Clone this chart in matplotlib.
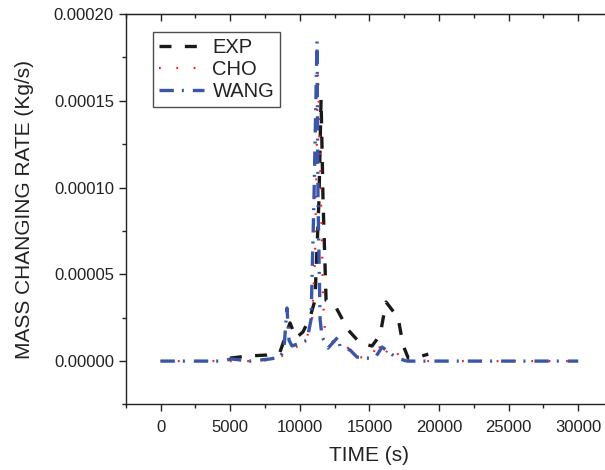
import matplotlib
matplotlib.use("Agg")
import matplotlib.pyplot as plt
from matplotlib.ticker import MultipleLocator, FormatStrFormatter

plt.rcParams['font.family'] = ['Liberation Sans', 'DejaVu Sans']

# EXP (experiment)
exp_t = [4980, 6270, 7640, 8580, 9300, 9730, 10230, 10730, 11090, 11380, 11530,
         11670, 11890, 12530, 13470, 14330, 15190, 15770, 16200, 17060, 17420,
         17790, 18510, 19230]
exp_m = [1.7e-6, 2.9e-6, 3.5e-6, 5.2e-6, 2.2e-5, 1.33e-5, 1.68e-5, 2.5e-5, 3.5e-5,
         9.3e-5, 1.51e-4, 9.3e-5, 3.5e-5, 3.2e-5, 1.8e-5, 1.04e-5, 8.7e-6, 1.5e-5,
         3.4e-5, 2.5e-5, 9.2e-6, 1.7e-6, 2.3e-6, 4.0e-6]

# CHO model
cho_t = [0, 7000, 7500, 8580, 9510, 10440, 10880, 11090, 11310, 11530, 11670,
         11820, 12390, 13040, 13470, 13970, 14690, 15190, 15620, 15910, 16340,
         16850, 17200, 17570, 30000]
cho_m = [0, 0, 3e-7, 2.3e-6, 6.9e-6, 1.16e-5, 2.4e-5, 5.8e-5, 1.67e-4, 9.3e-5,
         3.5e-5, 1.6e-5, 1.1e-5, 1.04e-5, 7.5e-6, 2.9e-6, 1.7e-6, 2.3e-6, 1.16e-5,
         2.3e-6, 6.4e-6, 8.1e-6, 6e-7, 0, 0]

# WANG model
wang_t = [0, 4260, 5130, 6420, 7860, 8580, 8860, 9080, 9230, 9440, 10020, 10520,
          10810, 11020, 11240, 11310, 11460, 11600, 12030, 12750, 12900, 13610,
          14110, 14900, 15400, 15910, 16490, 16990, 17710, 30000]
wang_m = [0, 0, 1.2e-6, 0, 1.2e-6, 2.3e-6, 6.4e-6, 3.06e-5, 1.2e-5, 8.7e-6,
          1.04e-5, 1.2e-5, 2.4e-5, 9.3e-5, 1.844e-4, 9.3e-5, 2.4e-5, 1.4e-5,
          7.5e-6, 1.39e-5, 8.1e-6, 6.4e-6, 2.3e-6, 1.7e-6, 1.7e-6, 8.1e-6, 4.6e-6,
          1.7e-6, 0, 0]

fig = plt.figure(figsize=(6.05, 4.7), dpi=100)
ax = fig.add_axes([0.2078, 0.1394, 0.8055, 0.8309])

ax.plot(exp_t, exp_m, color='#1a1a1a', lw=2.4, ls=(0, (3.6, 4.0)), label='EXP')
ax.plot(cho_t, cho_m, color='#ff1a1a', lw=1.6, ls=(0, (0.8, 7)), label='CHO')
ax.plot(wang_t, wang_m, color='#3a56a8', lw=2.4,
        ls=(0, (4.3, 2.4, 0.6, 2.7)), label='WANG')

ax.set_xlim(-2500, 32500)
ax.set_ylim(-0.000025, 0.0002)
ax.xaxis.set_major_locator(MultipleLocator(5000))
ax.xaxis.set_minor_locator(MultipleLocator(2500))
ax.yaxis.set_major_locator(MultipleLocator(0.00005))
ax.yaxis.set_minor_locator(MultipleLocator(0.000025))
ax.yaxis.set_major_formatter(FormatStrFormatter('%.5f'))

ax.tick_params(which='major', direction='out', length=5, width=1, labelsize=12,
               colors='#222222')
ax.tick_params(which='minor', direction='out', length=3, width=1, colors='#222222')
ax.tick_params(axis='x', pad=6)
for s in ax.spines.values():
    s.set_linewidth(1.0)
    s.set_color('#222222')

top = ax.secondary_xaxis('top')
top.xaxis.set_major_locator(MultipleLocator(5000))
top.xaxis.set_minor_locator(MultipleLocator(2500))
top.tick_params(which='major', direction='in', length=5, width=1, labeltop=False,
                colors='#222222')
top.tick_params(which='minor', direction='in', length=3, width=1, colors='#222222')

ax.set_xlabel('TIME (s)', fontsize=15, labelpad=8, color='#222222')
ax.set_ylabel('MASS CHANGING RATE (Kg/s)', fontsize=15, labelpad=14, color='#222222')

leg = ax.legend(loc='upper left', bbox_to_anchor=(0.056, 0.954), fontsize=14.5,
                frameon=True, fancybox=False, edgecolor='#222222',
                handlelength=2.25, handletextpad=0.4, borderpad=0.3,
                labelspacing=0.15, borderaxespad=0)
leg.get_frame().set_linewidth(1.0)
for t in leg.get_texts():
    t.set_color('#222222')

fig.savefig('out.png', dpi=100)
